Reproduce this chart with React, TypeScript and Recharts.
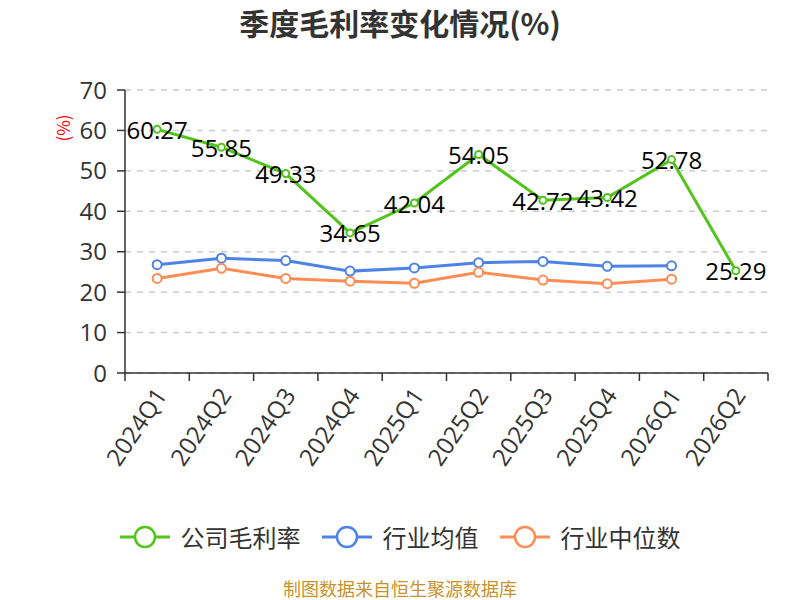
import React from "react";
import { LineChart, Line, XAxis, YAxis, CartesianGrid } from "recharts";

const quarters = ["2024Q1", "2024Q2", "2024Q3", "2024Q4", "2025Q1", "2025Q2", "2025Q3", "2025Q4", "2026Q1", "2026Q2"];
const companyMargin = [60.27, 55.85, 49.33, 34.65, 42.04, 54.05, 42.72, 43.42, 52.78, 25.29];
const industryAvg = [26.8, 28.4, 27.8, 25.2, 26.0, 27.3, 27.6, 26.4, 26.5, null];
const industryMedian = [23.4, 25.9, 23.4, 22.7, 22.2, 24.9, 23.0, 22.1, 23.2, null];
const yTicks = [0, 10, 20, 30, 40, 50, 60, 70];

const FONT = '"Noto Sans CJK SC", "Noto Sans", sans-serif';
const NUM_FONT = '"Open Sans", "Noto Sans CJK SC", sans-serif';
const GREEN = "#52c41a";
const BLUE = "#4e83e6";
const ORANGE = "#ff8c55";

const W = 800;
const H = 600;
const PLOT_LEFT = 125;
const PLOT_RIGHT = 768;
const HALF_BAND = (PLOT_RIGHT - PLOT_LEFT) / quarters.length / 2;

const series = [
  { key: "company", name: "公司毛利率", color: GREEN },
  { key: "avg", name: "行业均值", color: BLUE },
  { key: "median", name: "行业中位数", color: ORANGE },
];

const data = quarters.map((q, i) => ({
  q,
  company: companyMargin[i],
  avg: industryAvg[i],
  median: industryMedian[i],
}));

// 标签以点为中心
function ValueLabel(props: any) {
  const { x, y, value } = props;
  if (value == null) return null;
  return (
    <text x={x} y={y} textAnchor="middle" dominantBaseline="central" fill="#000" fontSize={24} fontFamily={NUM_FONT}>
      {value.toFixed(2)}
    </text>
  );
}

// 刻度线在类目边界，标签在类目中心
function QuarterTick(props: any) {
  const { x, y, payload, index } = props;
  const last = index === quarters.length - 1;
  return (
    <g>
      <line x1={x - HALF_BAND} x2={x - HALF_BAND} y1={y - 8} y2={y} stroke="#333" strokeWidth={1.5} />
      {last && <line x1={x + HALF_BAND} x2={x + HALF_BAND} y1={y - 8} y2={y} stroke="#333" strokeWidth={1.5} />}
      <text
        x={x + 3}
        y={y + 9}
        textAnchor="end"
        dominantBaseline="central"
        transform={`rotate(-56 ${x + 3} ${y + 9})`}
        fill="#333"
        fontSize={24}
        fontFamily={NUM_FONT}
      >
        {payload.value}
      </text>
    </g>
  );
}

function YUnitLabel(props: any) {
  const { viewBox } = props;
  const x = viewBox.x - 3;
  const y = 128;
  return (
    <text x={x} y={y} textAnchor="middle" dominantBaseline="central" transform={`rotate(-90 ${x} ${y})`} fill="#ff0000" fontSize={17} fontFamily={FONT}>
      (%)
    </text>
  );
}

function LegendRow() {
  return (
    <div style={{ position: "absolute", top: 519, left: 0, width: W, display: "flex", justifyContent: "center", alignItems: "center", fontFamily: FONT, fontSize: 24, color: "#333" }}>
      {series.map((s, i) => (
        <div key={s.key} style={{ display: "flex", alignItems: "center", marginLeft: i === 0 ? 0 : 21 }}>
          <svg width={50} height={36}>
            <line x1={0} x2={50} y1={18} y2={18} stroke={s.color} strokeWidth={3} />
            <circle cx={25} cy={18} r={10} fill="#fff" stroke={s.color} strokeWidth={2.5} />
          </svg>
          <span style={{ marginLeft: 11, lineHeight: "36px" }}>{s.name}</span>
        </div>
      ))}
    </div>
  );
}

export default function App() {
  return (
    <div style={{ position: "absolute", left: 0, top: 0, width: W, height: H, background: "#fff", fontFamily: FONT, overflow: "hidden" }}>
      <div style={{ position: "absolute", top: 2, left: 0, width: W, textAlign: "center", fontSize: 30, fontWeight: 700, color: "#333", lineHeight: "40px" }}>
        季度毛利率变化情况(%)
      </div>
      <LineChart width={W} height={H} data={data} margin={{ top: 90, right: W - PLOT_RIGHT, left: 65, bottom: 127 }}>
        <CartesianGrid vertical={false} stroke="#ccc" strokeWidth={1.5} strokeDasharray="6 6" />
        <XAxis
          dataKey="q"
          scale="band"
          height={100}
          interval={0}
          tickLine={false}
          axisLine={{ stroke: "#333", strokeWidth: 1.5 }}
          tick={<QuarterTick />}
        />
        <YAxis
          width={60}
          domain={[0, 70]}
          ticks={yTicks}
          interval={0}
          tickSize={8}
          tickMargin={10}
          axisLine={{ stroke: "#333", strokeWidth: 1.5 }}
          tickLine={{ stroke: "#333", strokeWidth: 1.5 }}
          tick={{ fill: "#333", fontSize: 24, fontFamily: NUM_FONT }}
          label={<YUnitLabel />}
        />
        <Line
          dataKey="avg"
          stroke={BLUE}
          strokeWidth={3}
          dot={{ r: 4.5, fill: "#fff", stroke: BLUE, strokeWidth: 2 }}
          activeDot={false}
          isAnimationActive={false}
        />
        <Line
          dataKey="median"
          stroke={ORANGE}
          strokeWidth={3}
          dot={{ r: 4.5, fill: "#fff", stroke: ORANGE, strokeWidth: 2 }}
          activeDot={false}
          isAnimationActive={false}
        />
        <Line
          dataKey="company"
          stroke={GREEN}
          strokeWidth={3}
          dot={{ r: 3.5, fill: "#fff", stroke: GREEN, strokeWidth: 2 }}
          activeDot={false}
          label={<ValueLabel />}
          isAnimationActive={false}
        />
      </LineChart>
      <LegendRow />
      <div style={{ position: "absolute", top: 577, left: 0, width: W, textAlign: "center", fontSize: 18, color: "#c8922a", lineHeight: "22px" }}>
        制图数据来自恒生聚源数据库
      </div>
    </div>
  );
}
